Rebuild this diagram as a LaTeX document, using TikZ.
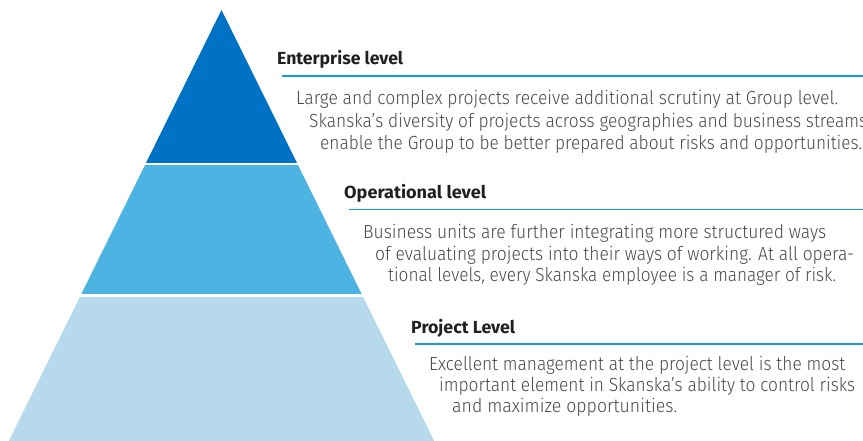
\documentclass[tikz,border=0pt]{standalone}
\usepackage{fontspec}
\usepackage{graphicx}
\newfontfamily\bodyfont{Fira Sans Light}
\newfontfamily\headfont{Fira Sans}
\definecolor{tierone}{RGB}{0,114,198}
\definecolor{tiertwo}{RGB}{76,179,227}
\definecolor{tierthree}{RGB}{182,217,236}
\definecolor{ruleblue}{RGB}{20,158,222}
\definecolor{headgray}{RGB}{35,31,32}
\definecolor{bodygray}{RGB}{72,72,72}
% stretch or squeeze a line horizontally to a given width
\newcommand{\fitw}[2]{\resizebox{#1}{\height}{#2}}
\tikzset{
  head/.style={anchor=base west, inner sep=0pt, text=headgray,
    font=\headfont\bfseries\fontsize{17.5pt}{20pt}\selectfont},
  body/.style={anchor=base west, inner sep=0pt, text=bodygray,
    font=\bodyfont\fontsize{19pt}{22pt}\selectfont},
  rulerline/.style={draw=ruleblue, line width=1.5pt}
}
\begin{document}
\begin{tikzpicture}[x=1pt,y=-1pt]
\useasboundingbox (0,0) rectangle (863,441);

% pyramid cut into three tiers
\begin{scope}
  \clip (221.5,10) -- (8.8,441) -- (434.2,441) -- cycle;
  \fill[tierone]   (0,0)     rectangle (863,163);
  \fill[tiertwo]   (0,165.5) rectangle (863,294.3);
  \fill[tierthree] (0,297)   rectangle (863,441);
\end{scope}

% enterprise level
\node[head] (h1) at (277,65) {\fitw{126pt}{Enterprise level}};
\coordinate (r1a) at (282,76);
\coordinate (r1b) at (863,76);
\draw[rulerline] (r1a) -- (r1b);
\node[body] (e1) at (296,105) {\fitw{542pt}{Large and complex projects receive additional scrutiny at Group level.}};
\node[body] (e2) at (309,128) {\fitw{558pt}{Skanska’s diversity of projects across geographies and business streams}};
\node[body] (e3) at (320,150) {\fitw{542pt}{enable the Group to be better prepared about risks and opportunities.}};

% operational level
\node[head] (h2) at (344,199) {\fitw{142pt}{Operational level}};
\coordinate (r2a) at (349,209.5);
\coordinate (r2b) at (863,209.5);
\draw[rulerline] (r2a) -- (r2b);
\node[body] (o1) at (363,239) {\fitw{463pt}{Business units are further integrating more structured ways}};
\node[body] (o2) at (375,261) {\fitw{479pt}{of evaluating projects into their ways of working. At all opera-}};
\node[body] (o3) at (388,282) {\fitw{448pt}{tional levels, every Skanska employee is a manager of risk.}};

% project level
\node[head] (h3) at (411,333) {\fitw{104pt}{Project Level}};
\coordinate (r3a) at (415,344);
\coordinate (r3b) at (863,344);
\draw[rulerline] (r3a) -- (r3b);
\node[body] (p1) at (429,370) {\fitw{416pt}{Excellent management at the project level is the most}};
\node[body] (p2) at (439,391) {\fitw{416pt}{important element in Skanska’s ability to control risks}};
\node[body] (p3) at (452,412) {\fitw{225pt}{and maximize opportunities.}};
\end{tikzpicture}
\end{document}
